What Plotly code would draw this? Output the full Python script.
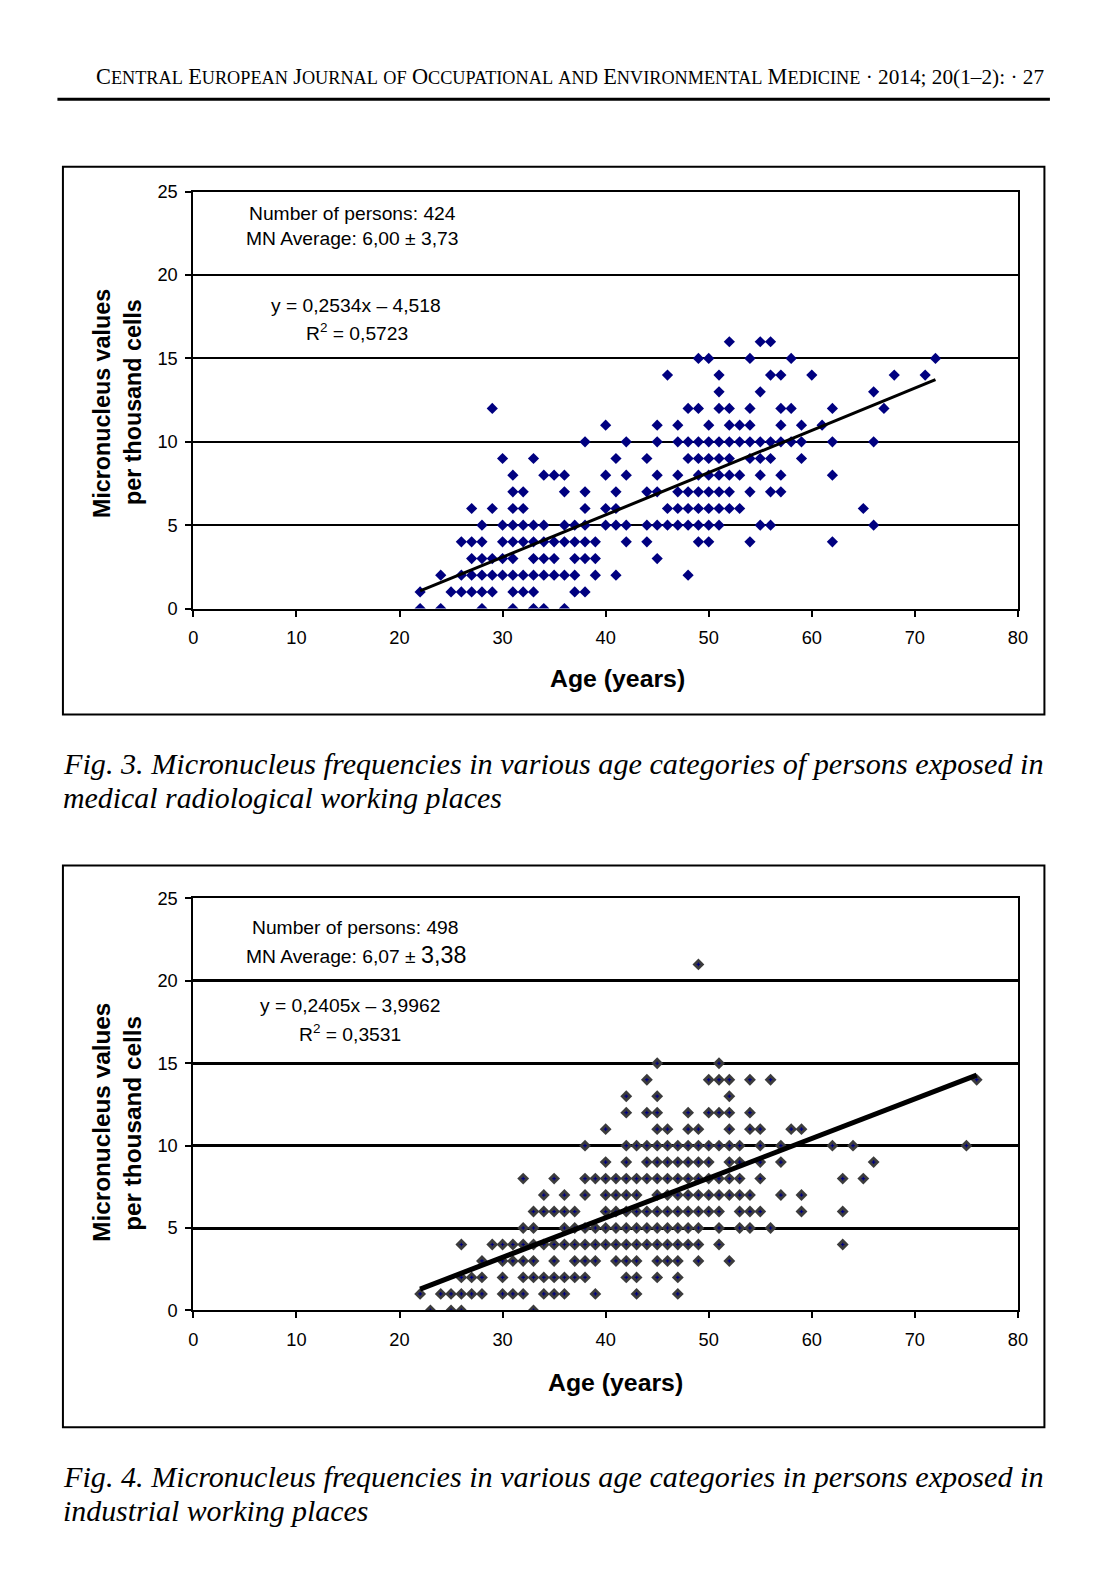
import plotly.graph_objects as go

W, H = 1110, 1584

# The photographed page comes out slightly shrunk and shifted; place
# everything in target (reference) pixels and map to page coordinates.
S = 0.987
OX, OY = 4.6, 9.4

def px(x):
    return (x / S - OX) / W

def py(y):
    return 1 - (y / S - OY) / H

def fs(v):
    return round(v / S, 2)

# ---------------- Fig. 3 data (age, MN per 1000 cells), grouped by MN value ----------------
fig3_mn_levels = [16, 15, 14, 13, 12, 11, 10, 9, 8, 7, 6, 5, 4, 3, 2, 1, 0]
fig3_ages_by_level = [
    [52, 55, 56],
    [49, 50, 54, 58, 72],
    [46, 51, 56, 57, 60, 68, 71],
    [51, 55, 66],
    [29, 48, 49, 51, 52, 54, 57, 58, 62, 67],
    [40, 45, 47, 50, 52, 53, 54, 57, 59, 61],
    [38, 42, 45, 47, 48, 49, 50, 51, 52, 53, 54, 55, 56, 57, 58, 59, 62, 66],
    [30, 33, 41, 44, 48, 49, 50, 51, 52, 54, 55, 56, 59],
    [31, 34, 35, 36, 40, 42, 45, 47, 49, 50, 51, 52, 53, 55, 57, 62],
    [31, 32, 36, 38, 41, 44, 45, 47, 48, 49, 50, 51, 52, 54, 56, 57],
    [27, 29, 31, 32, 38, 40, 41, 46, 47, 48, 49, 50, 51, 52, 53, 65],
    [28, 30, 31, 32, 33, 34, 36, 37, 38, 40, 41, 42, 44, 45, 46, 47, 48, 49, 50, 51, 55, 56, 66],
    [26, 27, 28, 30, 31, 32, 33, 34, 35, 36, 37, 38, 39, 42, 44, 49, 50, 54, 62],
    [27, 28, 29, 30, 31, 33, 34, 35, 37, 38, 39, 45],
    [24, 26, 27, 28, 29, 30, 31, 32, 33, 34, 35, 36, 37, 39, 41, 48],
    [22, 25, 26, 27, 28, 29, 31, 32, 33, 37, 38],
    [22, 24, 28, 31, 33, 34, 36],
]
fig3_slope, fig3_intercept = 0.2534, -4.518
fig3_fit_range = [22, 72]

# ---------------- Fig. 4 data ----------------
fig4_mn_levels = [21, 15, 14, 13, 12, 11, 10, 9, 8, 7, 6, 5, 4, 3, 2, 1, 0]
fig4_ages_by_level = [
    [49],
    [45, 51],
    [44, 50, 51, 52, 54, 56, 76],
    [42, 45, 52],
    [42, 44, 45, 48, 50, 51, 52, 54],
    [40, 45, 46, 48, 49, 52, 54, 55, 58, 59],
    [38, 42, 43, 44, 45, 46, 47, 48, 49, 50, 51, 52, 53, 55, 57, 62, 64, 75],
    [40, 42, 44, 45, 46, 47, 48, 49, 50, 52, 53, 55, 57, 66],
    [32, 35, 38, 39, 40, 41, 42, 43, 44, 45, 46, 47, 48, 49, 50, 51, 52, 53, 55, 63, 65],
    [34, 36, 38, 40, 41, 42, 43, 45, 46, 47, 48, 49, 50, 51, 52, 53, 54, 57, 59],
    [33, 34, 35, 36, 37, 40, 41, 42, 43, 44, 45, 46, 47, 48, 49, 50, 51, 53, 54, 55, 59, 63],
    [32, 33, 36, 37, 38, 39, 40, 41, 42, 43, 44, 45, 46, 47, 48, 49, 51, 53, 54, 56],
    [26, 29, 30, 31, 32, 33, 34, 35, 36, 37, 38, 39, 40, 41, 42, 43, 44, 45, 46, 47, 48, 49, 51, 63],
    [28, 30, 31, 32, 33, 35, 37, 38, 39, 41, 42, 43, 45, 46, 47, 49, 52],
    [26, 27, 28, 30, 32, 33, 34, 35, 36, 37, 38, 42, 43, 45, 47],
    [22, 24, 25, 26, 27, 28, 30, 31, 32, 34, 35, 36, 39, 43, 47],
    [23, 25, 26, 33],
]
fig4_slope, fig4_intercept = 0.2405, -3.9962
fig4_fit_range = [22, 76]

x_ticks = [0, 10, 20, 30, 40, 50, 60, 70, 80]
y_ticks = [0, 5, 10, 15, 20, 25]


def flatten(levels, ages_by_level):
    xs, ys = [], []
    for lv, ages in zip(levels, ages_by_level):
        for a in ages:
            xs.append(a)
            ys.append(lv)
    return xs, ys


f3x, f3y = flatten(fig3_mn_levels, fig3_ages_by_level)
f4x, f4y = flatten(fig4_mn_levels, fig4_ages_by_level)

SANS = "Liberation Sans, Arial, sans-serif"
SERIF = "Liberation Serif, Times New Roman, serif"

fig = go.Figure()

# Fig 3 points + trend
fig.add_trace(go.Scatter(x=f3x, y=f3y, mode="markers", xaxis="x", yaxis="y",
                         marker=dict(symbol="diamond", size=fs(8.5), color="#000080", line=dict(width=0)),
                         showlegend=False, hoverinfo="x+y"))
fig.add_trace(go.Scatter(x=fig3_fit_range,
                         y=[fig3_slope * v + fig3_intercept for v in fig3_fit_range],
                         mode="lines", xaxis="x", yaxis="y",
                         line=dict(color="black", width=fs(3)), showlegend=False))

# Fig 4 points + trend
fig.add_trace(go.Scatter(x=f4x, y=f4y, mode="markers", xaxis="x2", yaxis="y2",
                         marker=dict(symbol="diamond", size=fs(9), color="#3c3c3c", line=dict(width=0)),
                         showlegend=False, hoverinfo="x+y"))
fig.add_trace(go.Scatter(x=f4x, y=f4y, mode="markers", xaxis="x2", yaxis="y2",
                         marker=dict(symbol="cross", size=3, color="#000080", line=dict(width=0)),
                         showlegend=False, hoverinfo="skip"))
fig.add_trace(go.Scatter(x=fig4_fit_range,
                         y=[fig4_slope * v + fig4_intercept for v in fig4_fit_range],
                         mode="lines", xaxis="x2", yaxis="y2",
                         line=dict(color="black", width=fs(5)), showlegend=False))

xdom = [px(193), px(1018)]
y1dom = [py(607), py(190)]
y2dom = [py(1309), py(897)]

def xaxis_cfg(anchor):
    return dict(domain=xdom, anchor=anchor, range=[0, 80], tickvals=x_ticks,
                showgrid=False, zeroline=False, showline=True, linecolor="black",
                linewidth=2, mirror=True, ticks="outside", ticklen=6, tickwidth=2,
                tickcolor="black", tickfont=dict(family=SANS, size=fs(18), color="black"),
                ticklabelstandoff=6, fixedrange=True)

def yaxis_cfg(anchor, dom, gw):
    return dict(domain=dom, anchor=anchor, range=[0, 25], tickvals=y_ticks,
                showgrid=True, gridcolor="black", gridwidth=gw, zeroline=False,
                showline=True, linecolor="black", linewidth=2, mirror=True,
                ticks="outside", ticklen=6, tickwidth=2, tickcolor="black",
                tickfont=dict(family=SANS, size=fs(18), color="black"),
                ticklabelstandoff=4, fixedrange=True)

fig.update_layout(
    width=W, height=H, margin=dict(l=0, r=0, t=0, b=0),
    paper_bgcolor="white", plot_bgcolor="white", showlegend=False,
    xaxis=xaxis_cfg("y"), yaxis=yaxis_cfg("x", y1dom, 2),
    xaxis2=xaxis_cfg("y2"), yaxis2=yaxis_cfg("x2", y2dom, 2.5),
)

shapes = []
# header rule
shapes.append(dict(type="line", xref="paper", yref="paper", x0=px(57), x1=px(1050),
                   y0=py(97.5), y1=py(97.5), line=dict(color="black", width=3)))
# figure boxes
for (x0, y0, x1, y1) in [(62.5, 165, 1044.5, 713), (62.5, 864, 1044.5, 1426)]:
    shapes.append(dict(type="rect", xref="paper", yref="paper", x0=px(x0), x1=px(x1),
                       y0=py(y0), y1=py(y1), line=dict(color="black", width=2),
                       fillcolor="rgba(0,0,0,0)", layer="below"))
fig.update_layout(shapes=shapes)


def smallcaps(text, big, small):
    out = []
    for ch in text:
        if ch.isupper():
            out.append(f'<span style="font-size:{big}px">{ch}</span>')
        elif ch.islower():
            out.append(f'<span style="font-size:{small}px">{ch.upper()}</span>')
        else:
            out.append(ch)
    return "".join(out)


ann = []

def add_text(x, y, text, size, family=SANS, xanchor="center", angle=0):
    ann.append(dict(xref="paper", yref="paper", x=px(x), y=py(y), text=text,
                    showarrow=False, xanchor=xanchor, yanchor="middle", textangle=angle,
                    font=dict(family=family, size=fs(size), color="black")))

header = smallcaps("Central European Journal of Occupational and Environmental Medicine",
                   fs(22), fs(18)) + " · 2014; 20(1–2): · 27"
add_text(1046, 74.5, header, 21, family=SERIF, xanchor="right")

# Fig 3 texts
add_text(352, 212, "Number of persons: 424", 19)
add_text(352, 237, "MN Average: 6,00 ± 3,73", 19)
add_text(356, 304, "y = 0,2534x – 4,518", 19)
add_text(357, 330, "R<sup>2</sup> = 0,5723", 19)
add_text(617, 677, "<b>Age (years)</b>", 24.5)
add_text(101, 402, "<b>Micronucleus values</b>", 23, angle=-90)
add_text(132, 400, "<b>per thousand cells</b>", 23, angle=-90)

# Fig 4 texts
add_text(355, 926, "Number of persons: 498", 19)
add_text(356, 954, 'MN Average: 6,07 ± <span style="font-size:%spx">3,38</span>' % fs(23), 19)
add_text(350, 1004, "y = 0,2405x – 3,9962", 19)
add_text(350, 1032, "R<sup>2</sup> = 0,3531", 19)
add_text(615, 1381, "<b>Age (years)</b>", 24.5)
add_text(101, 1121, "<b>Micronucleus values</b>", 24, angle=-90)
add_text(132, 1122, "<b>per thousand cells</b>", 24, angle=-90)

# captions
add_text(61, 762.5, "<i>Fig. 3. Micronucleus frequencies in various age categories of persons exposed in</i>",
         29.8, family=SERIF, xanchor="left")
add_text(61, 796, "<i>medical radiological working places</i>", 29.5, family=SERIF, xanchor="left")
add_text(61, 1476, "<i>Fig. 4. Micronucleus frequencies in various age categories in persons exposed in</i>",
         29.8, family=SERIF, xanchor="left")
add_text(61, 1509.5, "<i>industrial working places</i>", 29.5, family=SERIF, xanchor="left")

fig.update_layout(annotations=ann)

post = (
    "document.body.style.margin='0';"
    "document.body.style.overflow='hidden';"
)
fig.write_html("out.html", config={"displayModeBar": False}, post_script=post)
